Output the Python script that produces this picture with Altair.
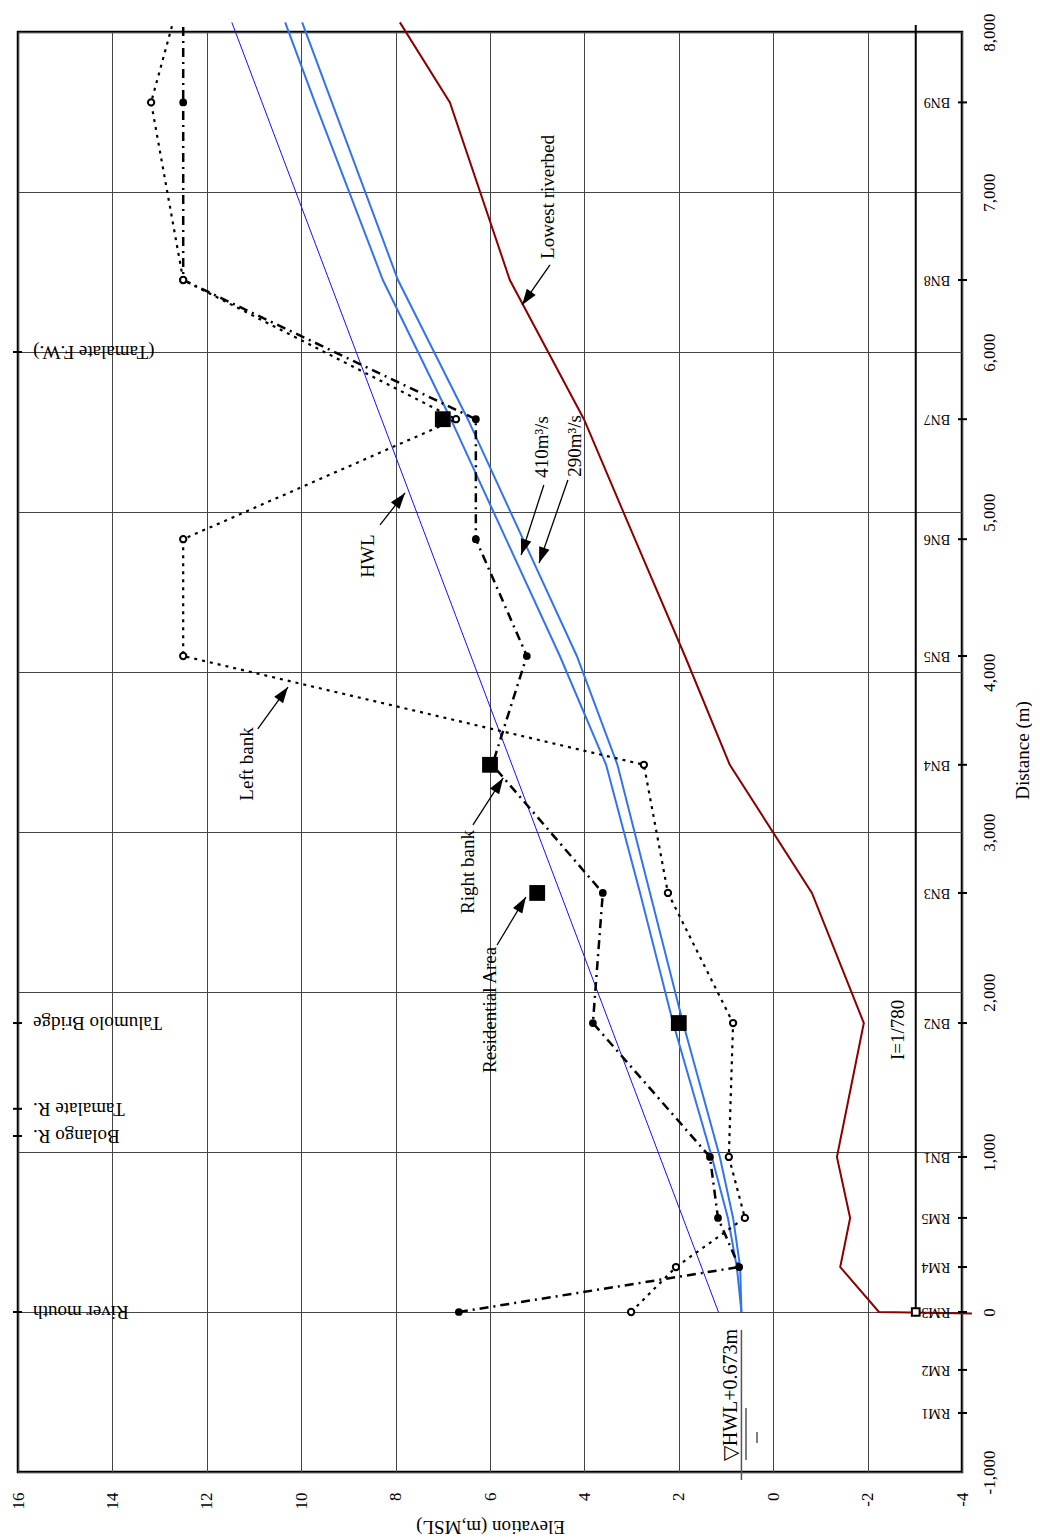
import math
import altair as alt
import pandas as pd

FONT = "Liberation Serif"
MINUS = "\u2212"
W, H = 944, 1440

# ---------------- data ----------------
elev_ticks = [-4, -2, 0, 2, 4, 6, 8, 10, 12, 14, 16]
dist_ticks = [-1000, 0, 1000, 2000, 3000, 4000, 5000, 6000, 7000, 8000]

station_names = ["RM1", "RM2", "RM3", "RM4", "RM5", "BN1", "BN2", "BN3", "BN4",
                 "BN5", "BN6", "BN7", "BN8", "BN9"]
station_dist = [-631, -362, 0, 281, 588, 969, 1806, 2619, 3420, 4100, 4830, 5580, 6450, 7560]

bank_dist = [0, 281, 588, 969, 1806, 2619, 3420, 4100, 4830, 5580, 6450, 7560]
right_bank = [6.66, 0.72, 1.17, 1.34, 3.82, 3.61, 5.95, 5.22, 6.30, 6.30, 12.5, 12.5]
left_bank = [3.01, 2.06, 0.60, 0.94, 0.85, 2.23, 2.74, 12.5, 12.5, 6.72, 12.5, 13.18]
bank_end_dist = 8056
right_bank_end = 12.5
left_bank_end = 12.72

wl_dist = [0, 281, 588, 969, 1806, 2619, 3420, 4100, 4830, 5580, 6450, 7560, 8060]
wl_410 = [0.673, 0.77, 0.96, 1.30, 2.12, 2.82, 3.54, 4.52, 5.66, 6.83, 8.27, 9.71, 10.34]
wl_290 = [0.673, 0.70, 0.85, 1.13, 1.91, 2.61, 3.30, 4.16, 5.30, 6.47, 7.95, 9.35, 9.98]

hwl_dist = [0, 8060]
hwl_elev = [1.16, 11.47]

bed_dist = [-10, 0, 281, 588, 969, 1806, 2619, 3420, 4100, 4830, 5580, 6450, 7560, 8060]
bed_elev = [-4.21, -2.24, -1.42, -1.63, -1.35, -1.92, -0.82, 0.92, 1.87, 2.93, 4.01, 5.58, 6.85, 7.91]

res_dist = [1806, 2619, 3420, 5580]
res_elev = [2.0, 5.0, 6.0, 7.0]

slope_dist = [0, 8044]
slope_elev = -3.02

place_names = ["River mouth", "Bolango R.", "Tamalate R.", "Talumolo Bridge", "(Tamalate F.W.)"]
place_dist = [0, 1100, 1270, 1806, 6000]

# annotations: label, text centre (elev, dist), arrow start (elev, dist), arrow tip (elev, dist)
ann_labels = ["Lowest riverbed", "410m\u00b3/s", "290m\u00b3/s", "HWL", "Left bank", "Right bank", "Residential Area"]
ann_text_elev = [4.77, 4.90, 4.20, 8.58, 11.15, 6.47, 6.00]
ann_text_dist = [6969, 5406, 5413, 4725, 3425, 2750, 1888]
arr_start_elev = [4.73, 4.86, 4.35, 8.33, 10.92, 6.36, 5.85]
arr_start_dist = [6544, 5169, 5200, 4919, 3644, 3044, 2294]
arr_tip_elev = [5.32, 5.34, 4.96, 7.80, 10.28, 5.72, 5.24]
arr_tip_dist = [6294, 4731, 4681, 5119, 3906, 3338, 2594]

# ---------------- scales / axes ----------------
xs = alt.Scale(domain=[-4, 16], reverse=True, nice=False, zero=False)
ys = alt.Scale(domain=[-1000, 8000], nice=False, zero=False)

x_axis = alt.Axis(values=elev_ticks, labelAngle=270, labelAlign="right", labelBaseline="middle",
                  labelPadding=20, labelFont=FONT, labelFontSize=17, labelColor="black",
                  labelExpr=f"replace(datum.label, '{MINUS}', '-')", labelFlush=False,
                  labelOverlap=False, ticks=False, domain=False, grid=True, gridColor="#444",
                  gridWidth=1, title="Elevation (m,MSL)", titleFont=FONT, titleFontSize=19,
                  titleFontWeight="normal", titleColor="black", titleAngle=180, titleY=54,
                  titleBaseline="middle", titleAlign="center")
y_axis = alt.Axis(orient="right", values=dist_ticks, format=",d", labelAngle=270,
                  labelAlign="center", labelBaseline="top", labelPadding=19, labelFont=FONT,
                  labelFontSize=17, labelColor="black",
                  labelExpr=f"replace(datum.label, '{MINUS}', '-')", labelFlush=False,
                  labelOverlap=False, ticks=False, domain=False, grid=True, gridColor="#444",
                  gridWidth=1, title="Distance (m)", titleFont=FONT, titleFontSize=19,
                  titleFontWeight="normal", titleColor="black", titleAngle=270, titleX=60,
                  titleY=H / 2 - 2, titleBaseline="middle", titleAlign="center")


def enc(**extra):
    return dict(x=alt.X("elev:Q", scale=xs, axis=x_axis),
                y=alt.Y("dist:Q", scale=ys, axis=y_axis), **extra)


def line_df(dists, elevs):
    return pd.DataFrame({"dist": dists, "elev": elevs, "seq": list(range(len(dists)))})


def line_layer(df, **kw):
    return alt.Chart(df).mark_line(clip=False, **kw).encode(**enc(order=alt.Order("seq:Q")))


layers = []

# slope reference line I=1/780
layers.append(line_layer(line_df(slope_dist, [slope_elev] * len(slope_dist)), color="black", strokeWidth=2))

# riverbed
layers.append(line_layer(line_df(bed_dist, bed_elev), color="#8B0000", strokeWidth=2))

# HWL thin line
layers.append(line_layer(line_df(hwl_dist, hwl_elev), color="#1010FF", strokeWidth=1))

# computed water levels
layers.append(line_layer(line_df(wl_dist, wl_410), color="#3373EE", strokeWidth=2))
layers.append(line_layer(line_df(wl_dist, wl_290), color="#3373EE", strokeWidth=2))

# banks
rb_df = line_df(bank_dist + [bank_end_dist], right_bank + [right_bank_end])
lb_df = line_df(bank_dist + [bank_end_dist], left_bank + [left_bank_end])
layers.append(line_layer(rb_df, color="black", strokeWidth=2.5, strokeDash=[9, 5, 2, 5]))
layers.append(line_layer(lb_df, color="black", strokeWidth=2.2, strokeDash=[3, 5]))

rb_pts = pd.DataFrame({"dist": bank_dist, "elev": right_bank})
lb_pts = pd.DataFrame({"dist": bank_dist, "elev": left_bank})
layers.append(alt.Chart(rb_pts).mark_point(shape="circle", filled=True, size=60, color="black",
                                           opacity=1, clip=False).encode(**enc()))
layers.append(alt.Chart(lb_pts).mark_point(shape="circle", filled=True, fill="white", stroke="black",
                                           strokeWidth=2, size=40, opacity=1, clip=False).encode(**enc()))

# residential area squares
res_df = pd.DataFrame({"dist": res_dist, "elev": res_elev})
layers.append(alt.Chart(res_df).mark_point(shape="square", filled=True, size=250, color="black",
                                           opacity=1).encode(**enc()))

# slope start marker
layers.append(alt.Chart(pd.DataFrame({"dist": [slope_dist[0]], "elev": [slope_elev]})).mark_point(
    shape="square", filled=True, fill="white", stroke="black", strokeWidth=2, size=60, opacity=1,
    clip=False).encode(**enc()))

# station ticks on right axis + labels
st_df = pd.DataFrame({"dist": station_dist, "dist2": station_dist, "label": station_names,
                      "elev": [-3.915] * len(station_dist), "elev2": [-4.106] * len(station_dist)})
layers.append(alt.Chart(st_df).mark_rule(color="black", strokeWidth=2, clip=False).encode(
    **enc(x2=alt.X2("elev2"), y2=alt.Y2("dist2"))))
st_lab = st_df.assign(elev=-3.75)
layers.append(alt.Chart(st_lab).mark_text(angle=180, align="left", baseline="middle", font=FONT,
                                          fontSize=14, color="black").encode(**enc(text="label:N")))

# place ticks on left + labels
pl_df = pd.DataFrame({"dist": place_dist, "dist2": place_dist, "label": place_names,
                      "elev": [16.106] * len(place_dist), "elev2": [15.915] * len(place_dist)})
layers.append(alt.Chart(pl_df).mark_rule(color="black", strokeWidth=2, clip=False).encode(
    **enc(x2=alt.X2("elev2"), y2=alt.Y2("dist2"))))
pl_lab = pl_df.assign(elev=15.68)
layers.append(alt.Chart(pl_lab).mark_text(angle=180, align="right", baseline="middle", font=FONT,
                                          fontSize=19, color="black").encode(**enc(text="label:N")))

# annotation arrows
px_e = W / 20.0
px_d = H / 9000.0
angles = []
for se, sd, te, td in zip(arr_start_elev, arr_start_dist, arr_tip_elev, arr_tip_dist):
    dx = -(te - se) * px_e
    dy = -(td - sd) * px_d
    angles.append(math.degrees(math.atan2(dx, -dy)) % 360)
arr_df = pd.DataFrame({"elev": arr_start_elev, "dist": arr_start_dist,
                       "elev2": arr_tip_elev, "dist2": arr_tip_dist})
layers.append(alt.Chart(arr_df).mark_rule(color="black", strokeWidth=1.3).encode(
    **enc(x2=alt.X2("elev2"), y2=alt.Y2("dist2"))))
head_df = pd.DataFrame({"elev": arr_tip_elev, "dist": arr_tip_dist, "ang": angles})
layers.append(alt.Chart(head_df).mark_point(shape="M0,0L-0.34,1L0.34,1Z", filled=True, size=1024,
                                            color="black", opacity=1).encode(
    **enc(angle=alt.Angle("ang:Q", scale=None))))

# annotation texts
ann_df = pd.DataFrame({"elev": ann_text_elev, "dist": ann_text_dist, "label": ann_labels})
layers.append(alt.Chart(ann_df).mark_text(angle=270, align="center", baseline="middle", font=FONT,
                                          fontSize=19, color="black").encode(**enc(text="label:N")))

# slope label
layers.append(alt.Chart(pd.DataFrame({"elev": [-2.64], "dist": [1763], "label": ["I=1/780"]})).mark_text(
    angle=270, align="center", baseline="middle", font=FONT, fontSize=19, color="black").encode(
    **enc(text="label:N")))

# HWL water level symbol at river mouth
sym_df = pd.DataFrame({"elev": [0.673, 0.576, 0.343], "elev2": [0.673, 0.576, 0.343],
                       "dist": [-112, -600, -750], "dist2": [-1050, -925, -819]})
layers.append(alt.Chart(sym_df).mark_rule(color="#555", strokeWidth=1.5, clip=False).encode(
    **enc(x2=alt.X2("elev2"), y2=alt.Y2("dist2"))))
layers.append(alt.Chart(pd.DataFrame({"elev": [0.894], "dist": [-519], "label": ["\u25bdHWL+0.673m"]})).mark_text(
    angle=270, align="center", baseline="middle", font=FONT, fontSize=20, color="black").encode(
    **enc(text="label:N")))

chart = alt.layer(*layers).properties(
    width=W, height=H,
    autosize=alt.AutoSizeParams(type="none"),
    padding={"left": 10, "top": 24, "right": 70, "bottom": 72},
    background="white",
).configure_view(stroke="black", strokeWidth=2.5)

chart.save("out.html", embed_options={"renderer": "svg", "actions": False})
